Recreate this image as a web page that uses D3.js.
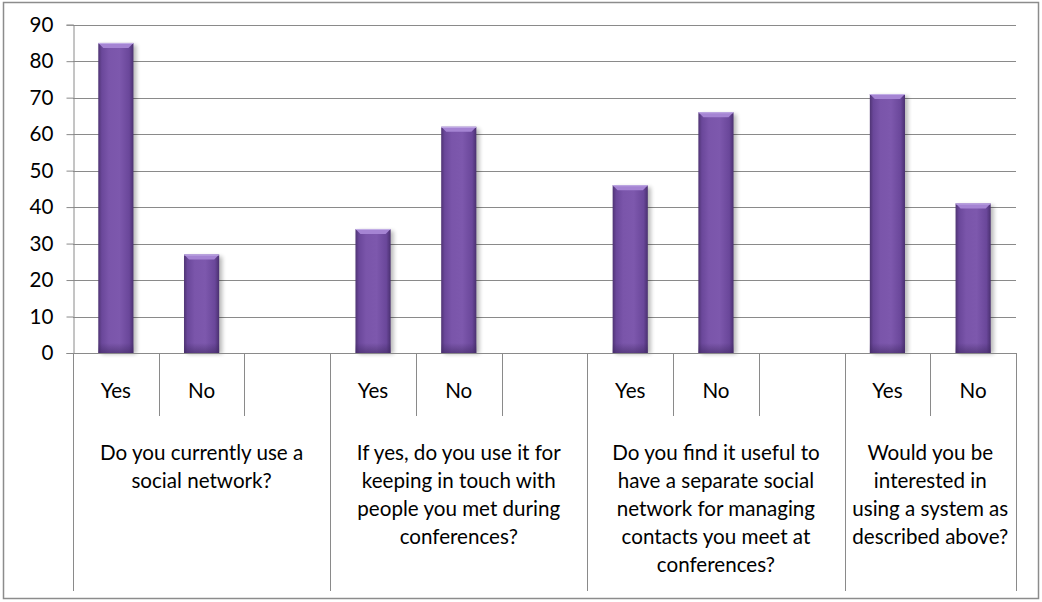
<!DOCTYPE html>
<html>
<head>
<meta charset="utf-8">
<script src="https://cdn.jsdelivr.net/npm/d3@7"></script>
<style>
  html, body { margin: 0; padding: 0; background: #fff; }
  svg { display: block; font-family: Lato, "Open Sans", "Liberation Sans", sans-serif; }
</style>
</head>
<body>
<svg id="chart" width="1042" height="602"></svg>
<script>
// Answers per slot; blank slots separate the questions
const categories = ["Yes", "No", "", "Yes", "No", "", "Yes", "No", "", "Yes", "No"];
const values = [85, 27, null, 34, 62, null, 46, 66, null, 71, 41];
const questions = [
  ["Do you currently use a", "social network?"],
  ["If yes, do you use it for", "keeping in touch with", "people you met during", "conferences?"],
  ["Do you find it useful to", "have a separate social", "network for managing", "contacts you meet at", "conferences?"],
  ["Would you be", "interested in", "using a system as", "described above?"]
];
const questionSlots = [3, 3, 3, 2];
const yTicks = [0, 10, 20, 30, 40, 50, 60, 70, 80, 90];

(function draw() {
const svg = d3.select("#chart");
const plotLeft = 73, plotRight = 1016, plotTop = 24.7, plotBottom = 353;
const gridColor = "#8a8a8a";
const fontSize = 20.6;

// outer frame
svg.append("rect").attr("x", 3.5).attr("y", 2.5).attr("width", 1035).attr("height", 596)
  .attr("fill", "#fff").attr("stroke", "#8c8c8c").attr("stroke-width", 1.5);

const x = d3.scaleBand().domain(d3.range(categories.length)).range([plotLeft, plotRight]).padding(0);
const y = d3.scaleLinear().domain([0, 90]).range([plotBottom, plotTop]);

const defs = svg.append("defs");
const body = defs.append("linearGradient").attr("id", "barBody").attr("x1", 0).attr("x2", 1).attr("y1", 0).attr("y2", 0);
[[0, "#4f3474"], [0.1, "#6a479a"], [0.3, "#7a55aa"], [0.6, "#7d58ad"], [0.88, "#6a479a"], [1, "#4a3070"]]
  .forEach(([o, c]) => body.append("stop").attr("offset", o).attr("stop-color", c));
const foot = defs.append("linearGradient").attr("id", "barFoot").attr("x1", 0).attr("x2", 0).attr("y1", 0).attr("y2", 1);
foot.append("stop").attr("offset", 0).attr("stop-color", "#3e2760").attr("stop-opacity", 0);
foot.append("stop").attr("offset", 1).attr("stop-color", "#3e2760").attr("stop-opacity", 0.55);
const shadow = defs.append("filter").attr("id", "shadow").attr("x", "-30%").attr("y", "-10%").attr("width", "160%").attr("height", "130%");
shadow.append("feGaussianBlur").attr("stdDeviation", 2.2);

// gridlines
svg.append("g").selectAll("line").data(yTicks.filter(d => d > 0)).join("line")
  .attr("x1", plotLeft).attr("x2", plotRight).attr("y1", d => Math.round(y(d)) + 0.5).attr("y2", d => Math.round(y(d)) + 0.5)
  .attr("stroke", gridColor).attr("stroke-width", 1);

// y axis
const yAxis = svg.append("g").attr("transform", `translate(${plotLeft + 0.5},0)`)
  .call(d3.axisLeft(y).tickValues(yTicks).tickSize(7).tickPadding(13));
yAxis.select(".domain").attr("stroke", gridColor);
yAxis.selectAll(".tick line").attr("stroke", gridColor);
yAxis.selectAll(".tick text").attr("font-size", fontSize).attr("fill", "#000").attr("font-family", "Lato, sans-serif");

// bars
const bw = x.bandwidth() * 0.41;
const barData = values.map((v, i) => ({ v, i })).filter(d => d.v != null);
const bars = svg.append("g");
bars.selectAll("rect.shadow").data(barData).join("rect").attr("class", "shadow")
  .attr("x", d => x(d.i) + (x.bandwidth() - bw) / 2 + 3).attr("y", d => y(d.v) + 2)
  .attr("width", bw).attr("height", d => plotBottom - y(d.v) - 1)
  .attr("fill", "#000").attr("opacity", 0.28).attr("filter", "url(#shadow)");
bars.selectAll("rect.body").data(barData).join("rect").attr("class", "body")
  .attr("x", d => x(d.i) + (x.bandwidth() - bw) / 2).attr("y", d => y(d.v))
  .attr("width", bw).attr("height", d => plotBottom - y(d.v))
  .attr("fill", "url(#barBody)");
bars.selectAll("rect.foot").data(barData).join("rect").attr("class", "foot")
  .attr("x", d => x(d.i) + (x.bandwidth() - bw) / 2).attr("y", plotBottom - 10)
  .attr("width", bw).attr("height", 10)
  .attr("fill", "url(#barFoot)");
// bevelled top
bars.selectAll("path.bevel").data(barData).join("path").attr("class", "bevel")
  .attr("d", d => {
    const x0 = x(d.i) + (x.bandwidth() - bw) / 2, x1 = x0 + bw, t = y(d.v), b = 5;
    return `M${x0},${t}L${x1},${t}L${x1 - b},${t + b}L${x0 + b},${t + b}Z`;
  })
  .attr("fill", "#a584d3");
bars.selectAll("line.rim").data(barData).join("line").attr("class", "rim")
  .attr("x1", d => x(d.i) + (x.bandwidth() - bw) / 2).attr("x2", d => x(d.i) + (x.bandwidth() + bw) / 2)
  .attr("y1", d => y(d.v) + 0.5).attr("y2", d => y(d.v) + 0.5)
  .attr("stroke", "#c2aee6").attr("stroke-width", 1);

// x axis line
svg.append("line").attr("x1", plotLeft).attr("x2", plotRight).attr("y1", plotBottom + 0.5).attr("y2", plotBottom + 0.5)
  .attr("stroke", gridColor);

// category separators
const seps = svg.append("g");
let slot = 0;
const groupBounds = [];
questionSlots.forEach(n => { groupBounds.push([slot, slot + n]); slot += n; });
const groupEdges = new Set([0, ...groupBounds.map(g => g[1])]);
for (let k = 0; k <= categories.length; k++) {
  const px = Math.round(k < categories.length ? x(k) : plotRight) + 0.5;
  seps.append("line").attr("x1", px).attr("x2", px).attr("y1", plotBottom)
    .attr("y2", groupEdges.has(k) ? 591 : 416).attr("stroke", gridColor);
}

// category labels
svg.append("g").selectAll("text").data(categories).join("text")
  .attr("x", (d, i) => x(i) + x.bandwidth() / 2).attr("y", 398)
  .attr("text-anchor", "middle").attr("font-size", fontSize).attr("fill", "#000").text(d => d);

// question labels
const q = svg.append("g");
questions.forEach((lines, gi) => {
  const [s, e] = groupBounds[gi];
  const cx = (x(s) + (e < categories.length ? x(e) : plotRight)) / 2;
  const t = q.append("text").attr("text-anchor", "middle").attr("font-size", fontSize).attr("fill", "#000");
  lines.forEach((ln, li) => t.append("tspan").attr("x", cx).attr("y", 459.5 + li * 28).text(ln));
});
})();
</script>
</body>
</html>
